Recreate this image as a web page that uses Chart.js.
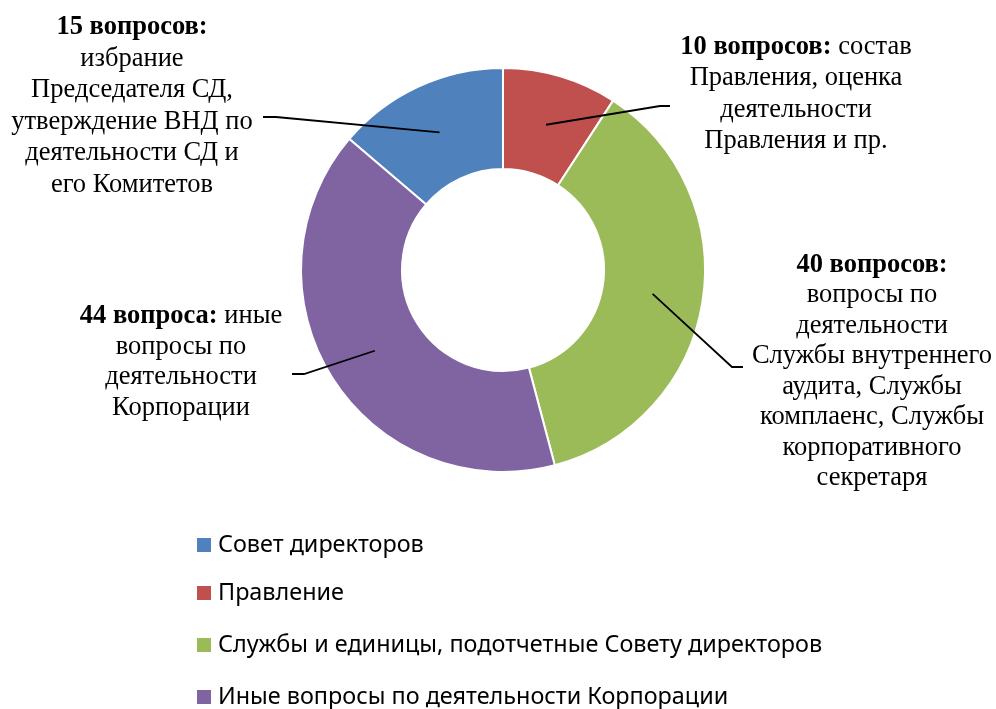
<!DOCTYPE html>
<html>
<head>
<meta charset="utf-8">
<script src="https://cdn.jsdelivr.net/npm/chart.js@4/dist/chart.umd.min.js"></script>
<style>
  html, body { margin: 0; padding: 0; background: #fff; }
  #wrap { width: 996px; height: 709px; position: relative; }
</style>
</head>
<body>
<div id="wrap"><canvas id="donut"></canvas></div>
<script>
// data
const categories = ['Совет директоров', 'Правление', 'Службы и единицы, подотчетные Совету директоров', 'Иные вопросы по деятельности Корпорации'];
const questions = [15, 10, 40, 44];
const colors = ['#4F81BD', '#C0504D', '#9BBB59', '#8064A2'];

// callout texts: bold head, rest of first line, then following lines
const noteHeads = ['15 вопросов:', '10 вопросов:', '40 вопросов:', '44 вопроса:'];
const noteTails = ['', ' состав', '', ' иные'];
const noteLines = [
    ['избрание', 'Председателя СД,', 'утверждение ВНД по', 'деятельности СД и', 'его Комитетов'],
    ['Правления, оценка', 'деятельности', 'Правления и пр.'],
    ['вопросы по', 'деятельности', 'Службы внутреннего', 'аудита, Службы', 'комплаенс, Службы', 'корпоративного', 'секретаря'],
    ['вопросы по', 'деятельности', 'Корпорации']
];

// layout for callouts (text block centre, first line y, line height, leader elbow + end)
const noteLayout = [
    { cx: 132, y: 27, lh: 31.6, elbow: [276, 117], end: [263, 117] },
    { cx: 796, y: 47, lh: 31.5, elbow: [660, 106], end: [670, 106] },
    { cx: 872, y: 265, lh: 30.5, elbow: [732, 367], end: [743, 367] },
    { cx: 181, y: 316, lh: 30.7, elbow: [304, 374], end: [292, 374] }
];

const total = questions.reduce((a, b) => a + b, 0);

const calloutPlugin = {
    id: 'callouts',
    afterDatasetsDraw(chart) {
        const ctx = chart.ctx;
        const arcs = chart.getDatasetMeta(0).data;
        ctx.save();
        ctx.strokeStyle = '#000';
        ctx.lineWidth = 1.8;
        arcs.forEach((arc, i) => {
            const p = arc.tooltipPosition();
            const L = noteLayout[i];
            ctx.beginPath();
            ctx.moveTo(p.x, p.y);
            ctx.lineTo(L.elbow[0], L.elbow[1]);
            ctx.lineTo(L.end[0], L.end[1]);
            ctx.stroke();
        });

        ctx.fillStyle = '#000';
        ctx.textBaseline = 'middle';
        ctx.textAlign = 'left';
        const boldFont = 'bold 26.5px "Liberation Serif", "Times New Roman", serif';
        const normFont = '26.5px "Liberation Serif", "Times New Roman", serif';
        noteHeads.forEach((head, i) => {
            const L = noteLayout[i];
            ctx.font = boldFont;
            const wb = ctx.measureText(head).width;
            ctx.font = normFont;
            const wt = ctx.measureText(noteTails[i]).width;
            let x = L.cx - (wb + wt) / 2;
            ctx.font = boldFont;
            ctx.fillText(head, x, L.y);
            ctx.font = normFont;
            ctx.fillText(noteTails[i], x + wb, L.y);
            ctx.textAlign = 'center';
            noteLines[i].forEach((line, j) => {
                ctx.fillText(line, L.cx, L.y + L.lh * (j + 1));
            });
            ctx.textAlign = 'left';
        });
        ctx.restore();
    }
};

// vertical legend list under the doughnut
const legendPlugin = {
    id: 'listLegend',
    afterDraw(chart) {
        const ctx = chart.ctx;
        const rows = [545, 593, 645, 697];
        ctx.save();
        ctx.font = '23.4px "Noto Sans", sans-serif';
        ctx.textBaseline = 'middle';
        ctx.textAlign = 'left';
        chart.data.labels.forEach((label, i) => {
            ctx.fillStyle = colors[i];
            ctx.fillRect(197, rows[i] - 7, 14, 14);
            ctx.fillStyle = '#000';
            ctx.fillText(label, 218, rows[i]);
        });
        ctx.restore();
    }
};

new Chart(document.getElementById('donut'), {
    type: 'doughnut',
    data: {
        labels: categories,
        datasets: [{
            data: questions,
            backgroundColor: colors,
            borderColor: '#fff',
            borderWidth: 2
        }]
    },
    options: {
        responsive: true,
        maintainAspectRatio: false,
        animation: false,
        cutout: '50%',
        rotation: -questions[0] / total * 360,
        layout: { padding: { left: 300, right: 290, top: 67, bottom: 236 } },
        plugins: {
            legend: { display: false },
            tooltip: { enabled: false }
        }
    },
    plugins: [calloutPlugin, legendPlugin]
});
</script>
</body>
</html>
